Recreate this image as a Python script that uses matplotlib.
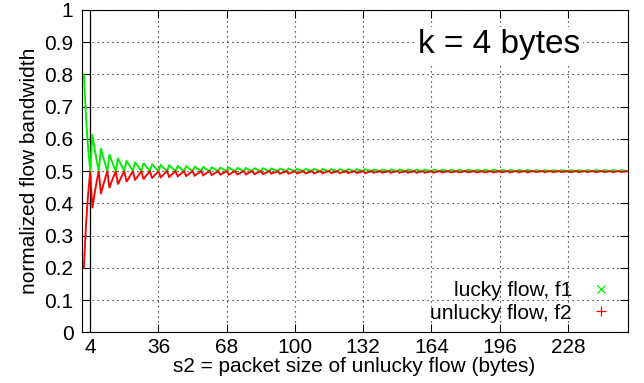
import matplotlib
matplotlib.use("Agg")
import matplotlib.pyplot as plt
from matplotlib.lines import Line2D

plt.rcParams["font.family"] = ["Liberation Sans", "DejaVu Sans"]

# packet size of the unlucky flow, bytes
s2 = list(range(1, 257))

# normalized bandwidth of the lucky flow f1, one row per 4-byte period
f1_bw = [
    0.800, 0.667, 0.571, 0.500,
    0.615, 0.571, 0.533, 0.500,
    0.571, 0.545, 0.522, 0.500,
    0.552, 0.533, 0.516, 0.500,
    0.541, 0.526, 0.513, 0.500,
    0.533, 0.522, 0.511, 0.500,
    0.528, 0.519, 0.509, 0.500,
    0.525, 0.516, 0.508, 0.500,
    0.522, 0.514, 0.507, 0.500,
    0.519, 0.513, 0.506, 0.500,
    0.518, 0.512, 0.506, 0.500,
    0.516, 0.511, 0.505, 0.500,
    0.515, 0.510, 0.505, 0.500,
    0.514, 0.509, 0.505, 0.500,
    0.513, 0.508, 0.504, 0.500,
    0.512, 0.508, 0.504, 0.500,
    0.511, 0.507, 0.504, 0.500,
    0.511, 0.507, 0.503, 0.500,
    0.510, 0.507, 0.503, 0.500,
    0.510, 0.506, 0.503, 0.500,
    0.509, 0.506, 0.503, 0.500,
    0.509, 0.506, 0.503, 0.500,
    0.508, 0.505, 0.503, 0.500,
    0.508, 0.505, 0.503, 0.500,
    0.508, 0.505, 0.503, 0.500,
    0.507, 0.505, 0.502, 0.500,
    0.507, 0.505, 0.502, 0.500,
    0.507, 0.504, 0.502, 0.500,
    0.507, 0.504, 0.502, 0.500,
    0.506, 0.504, 0.502, 0.500,
    0.506, 0.504, 0.502, 0.500,
    0.506, 0.504, 0.502, 0.500,
    0.506, 0.504, 0.502, 0.500,
    0.506, 0.504, 0.502, 0.500,
    0.505, 0.503, 0.502, 0.500,
    0.505, 0.503, 0.502, 0.500,
    0.505, 0.503, 0.502, 0.500,
    0.505, 0.503, 0.502, 0.500,
    0.505, 0.503, 0.502, 0.500,
    0.505, 0.503, 0.502, 0.500,
    0.505, 0.503, 0.502, 0.500,
    0.505, 0.503, 0.501, 0.500,
    0.504, 0.503, 0.501, 0.500,
    0.504, 0.503, 0.501, 0.500,
    0.504, 0.503, 0.501, 0.500,
    0.504, 0.503, 0.501, 0.500,
    0.504, 0.503, 0.501, 0.500,
    0.504, 0.503, 0.501, 0.500,
    0.504, 0.503, 0.501, 0.500,
    0.504, 0.502, 0.501, 0.500,
    0.504, 0.502, 0.501, 0.500,
    0.504, 0.502, 0.501, 0.500,
    0.504, 0.502, 0.501, 0.500,
    0.503, 0.502, 0.501, 0.500,
    0.503, 0.502, 0.501, 0.500,
    0.503, 0.502, 0.501, 0.500,
    0.503, 0.502, 0.501, 0.500,
    0.503, 0.502, 0.501, 0.500,
    0.503, 0.502, 0.501, 0.500,
    0.503, 0.502, 0.501, 0.500,
    0.503, 0.502, 0.501, 0.500,
    0.503, 0.502, 0.501, 0.500,
    0.503, 0.502, 0.501, 0.500,
    0.503, 0.502, 0.501, 0.500,
]

# normalized bandwidth of the unlucky flow f2
f2_bw = [
    0.200, 0.333, 0.429, 0.500,
    0.385, 0.429, 0.467, 0.500,
    0.429, 0.455, 0.478, 0.500,
    0.448, 0.467, 0.484, 0.500,
    0.459, 0.474, 0.487, 0.500,
    0.467, 0.478, 0.489, 0.500,
    0.472, 0.481, 0.491, 0.500,
    0.475, 0.484, 0.492, 0.500,
    0.478, 0.486, 0.493, 0.500,
    0.481, 0.487, 0.494, 0.500,
    0.482, 0.488, 0.494, 0.500,
    0.484, 0.489, 0.495, 0.500,
    0.485, 0.490, 0.495, 0.500,
    0.486, 0.491, 0.495, 0.500,
    0.487, 0.492, 0.496, 0.500,
    0.488, 0.492, 0.496, 0.500,
    0.489, 0.493, 0.496, 0.500,
    0.489, 0.493, 0.497, 0.500,
    0.490, 0.493, 0.497, 0.500,
    0.490, 0.494, 0.497, 0.500,
    0.491, 0.494, 0.497, 0.500,
    0.491, 0.494, 0.497, 0.500,
    0.492, 0.495, 0.497, 0.500,
    0.492, 0.495, 0.497, 0.500,
    0.492, 0.495, 0.497, 0.500,
    0.493, 0.495, 0.498, 0.500,
    0.493, 0.495, 0.498, 0.500,
    0.493, 0.496, 0.498, 0.500,
    0.493, 0.496, 0.498, 0.500,
    0.494, 0.496, 0.498, 0.500,
    0.494, 0.496, 0.498, 0.500,
    0.494, 0.496, 0.498, 0.500,
    0.494, 0.496, 0.498, 0.500,
    0.494, 0.496, 0.498, 0.500,
    0.495, 0.497, 0.498, 0.500,
    0.495, 0.497, 0.498, 0.500,
    0.495, 0.497, 0.498, 0.500,
    0.495, 0.497, 0.498, 0.500,
    0.495, 0.497, 0.498, 0.500,
    0.495, 0.497, 0.498, 0.500,
    0.495, 0.497, 0.498, 0.500,
    0.495, 0.497, 0.499, 0.500,
    0.496, 0.497, 0.499, 0.500,
    0.496, 0.497, 0.499, 0.500,
    0.496, 0.497, 0.499, 0.500,
    0.496, 0.497, 0.499, 0.500,
    0.496, 0.497, 0.499, 0.500,
    0.496, 0.497, 0.499, 0.500,
    0.496, 0.497, 0.499, 0.500,
    0.496, 0.498, 0.499, 0.500,
    0.496, 0.498, 0.499, 0.500,
    0.496, 0.498, 0.499, 0.500,
    0.496, 0.498, 0.499, 0.500,
    0.497, 0.498, 0.499, 0.500,
    0.497, 0.498, 0.499, 0.500,
    0.497, 0.498, 0.499, 0.500,
    0.497, 0.498, 0.499, 0.500,
    0.497, 0.498, 0.499, 0.500,
    0.497, 0.498, 0.499, 0.500,
    0.497, 0.498, 0.499, 0.500,
    0.497, 0.498, 0.499, 0.500,
    0.497, 0.498, 0.499, 0.500,
    0.497, 0.498, 0.499, 0.500,
    0.497, 0.498, 0.499, 0.500,
]

k_bytes = 4
x_ticks = [4, 36, 68, 100, 132, 164, 196, 228]
y_ticks = [0, 0.1, 0.2, 0.3, 0.4, 0.5, 0.6, 0.7, 0.8, 0.9, 1]
y_ticklabels = ["0", "0.1", "0.2", "0.3", "0.4", "0.5", "0.6", "0.7", "0.8", "0.9", "1"]

GREEN = "#00ee00"
RED = "#ff0000"
FS = 15

fig = plt.figure(figsize=(6.44, 3.83), dpi=100)
ax = fig.add_axes([0.1269, 0.1324, 0.8475, 0.8415])

ax.plot(s2, f1_bw, color=GREEN, lw=1.35, solid_joinstyle="miter", zorder=3)
ax.plot(s2, f2_bw, color=RED, lw=1.35, solid_joinstyle="miter", zorder=3)
ax.axvline(k_bytes, color="black", lw=0.9, zorder=2)

ax.set_xlim(0, 256)
ax.set_ylim(0, 1)
ax.set_xticks(x_ticks)
ax.set_yticks(y_ticks)
ax.set_yticklabels(y_ticklabels)
ax.tick_params(direction="in", length=5.5, width=0.75, top=True, right=True,
               labelsize=FS, colors="black")
ax.tick_params(axis="x", pad=4)
ax.tick_params(axis="y", pad=6)
ax.grid(True, color="black", lw=0.8, linestyle=(0, (1, 3.5)))
for sp in ax.spines.values():
    sp.set_linewidth(0.8)

ax.set_xlabel("s2 = packet size of unlucky flow (bytes)", fontsize=FS, labelpad=0)
ax.set_ylabel("normalized flow bandwidth", fontsize=FS, labelpad=4)

ax.text(0.765, 0.8656, f"k = {k_bytes} bytes", transform=ax.transAxes,
        fontsize=24, ha="center", va="baseline", zorder=4,
        bbox=dict(facecolor="white", edgecolor="none", pad=2))

handles = [
    Line2D([], [], color=GREEN, marker="x", ls="none", ms=6, mew=0.9),
    Line2D([], [], color=RED, marker="+", ls="none", ms=7, mew=0.9),
]
ax.legend(handles, ["lucky flow, f1", "unlucky flow, f2"], loc="lower right",
          bbox_to_anchor=(0.9705, 0.03), frameon=False, fontsize=FS,
          markerfirst=False, handlelength=1.0, handletextpad=0.9,
          labelspacing=0.15, borderpad=0, borderaxespad=0)

fig.savefig("out.png", dpi=100, facecolor="white")
plt.close(fig)
